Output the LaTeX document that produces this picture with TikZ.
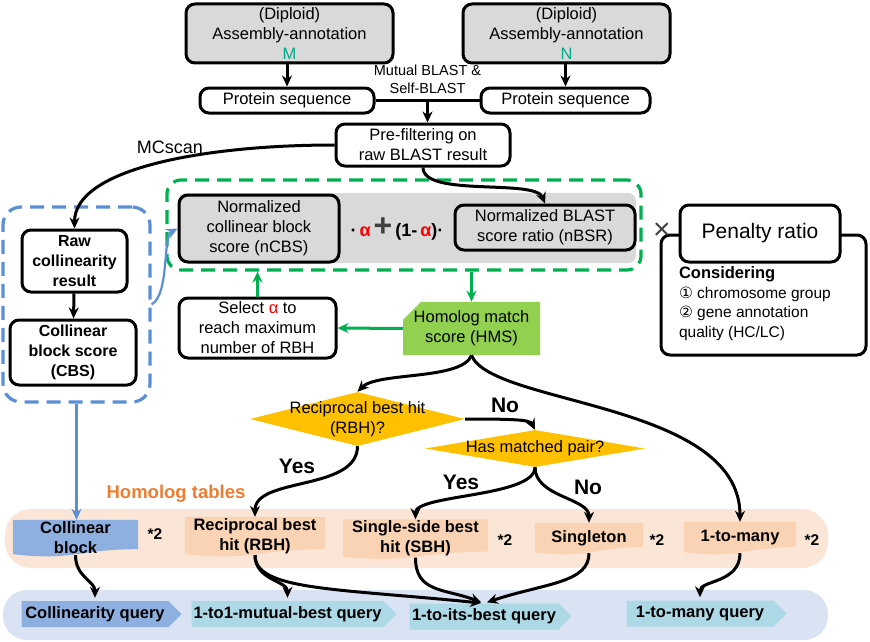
\documentclass[tikz,border=0pt]{standalone}
\usepackage{fontspec}
\setmainfont{Liberation Sans}
\newfontfamily\symfont{DejaVu Sans}
\usetikzlibrary{arrows.meta,positioning,calc,shapes.geometric,shapes.misc,shapes.symbols,backgrounds}

\definecolor{boxgray}{HTML}{D9D9D9}
\definecolor{genoteal}{HTML}{00A88A}
\definecolor{blueline}{HTML}{5B8FD5}
\definecolor{hmsline}{HTML}{00B050}
\definecolor{hmsfill}{HTML}{92D050}
\definecolor{diagold}{HTML}{FFC000}
\definecolor{alphared}{HTML}{FF0000}
\definecolor{plusgray}{HTML}{404040}
\definecolor{tabtitle}{HTML}{ED7D31}
\definecolor{tabband}{HTML}{FBE5D6}
\definecolor{tabpeach}{HTML}{FAD3B5}
\definecolor{blockblue}{HTML}{8EB0E0}
\definecolor{queryband}{HTML}{DAE3F3}
\definecolor{querycyan}{HTML}{ADD8E6}

\begin{document}
\begin{tikzpicture}[
    x=1pt, y=-1pt,
    font=\fontsize{16.5}{20}\selectfont,
    every node/.style={align=center},
    box/.style={draw, line width=3pt, rounded corners=9pt, inner sep=1pt},
    asm/.style={box, fill=boxgray, minimum width=207pt, minimum height=59pt},
    seq/.style={box, fill=white, minimum height=25pt},
    wbox/.style={box, fill=white},
    gbox/.style={box, fill=boxgray},
    bbox/.style={box, fill=white, font=\fontsize{16}{20}\selectfont\bfseries},
    hmsbox/.style={chamfered rectangle, chamfered rectangle corners=north west,
        chamfered rectangle xsep=9pt, chamfered rectangle ysep=9pt,
        fill=hmsfill, inner sep=0pt, minimum width=137pt, minimum height=43pt},
    dia/.style={diamond, fill=diagold, inner sep=0pt},
    tab/.style={inner sep=0pt, font=\fontsize{16.5}{20}\selectfont\bfseries},
    query/.style={signal, signal to=east, minimum height=26pt, inner sep=0pt,
        font=\fontsize{16.5}{20}\selectfont\bfseries},
    lbl/.style={font=\fontsize{21}{23}\selectfont\bfseries},
    star/.style={font=\fontsize{15.5}{18}\selectfont\bfseries},
    grpdash/.style={line width=3.2pt, dash pattern=on 14pt off 8pt},
    >={Stealth[length=11pt,width=10pt]},
    arr/.style={->, line width=3pt},
    garr/.style={->, line width=3pt, draw=hmsline},
    barr/.style={->, line width=2.2pt, draw=blueline},
]
\useasboundingbox (0,0) rectangle (870,642);

% --- Assemblies & protein sequences ---
\node[asm] (asmM) at (289.5,33.5) {(Diploid)\\Assembly-annotation\\\textcolor{genoteal}{M}};
\node[asm] (asmN) at (566.5,33.5) {(Diploid)\\Assembly-annotation\\\textcolor{genoteal}{N}};
\node[seq, minimum width=174pt] (protM) at (287,100.5) {Protein sequence};
\node[seq, minimum width=169pt] (protN) at (565.5,100.5) {Protein sequence};
\node[wbox, minimum width=174pt, minimum height=42pt] (prefilt) at (423,145) {Pre-filtering on\\raw BLAST result};

\draw[arr] (asmM.south -| protM.north) -- (protM.north);
\draw[arr] (asmN.south -| protN.north) -- (protN.north);
\draw[line width=3pt] (protM.east) -- coordinate[pos=0.5] (blast)
    node[pos=0.5, above=2pt, font=\fontsize{14.5}{18}\selectfont] {Mutual BLAST \&\\Self-BLAST} (protN.west);
\draw[arr] (blast) -- (blast |- prefilt.north);

% --- Collinearity branch ---
\node[draw=blueline, grpdash, rounded corners=18pt, minimum width=147pt, minimum height=195pt] (cbsgrp) at (76.5,304.5) {};
\node[bbox, minimum width=105pt, minimum height=62pt] (rawcol) at (74.5,261) {Raw\\collinearity\\result};
\node[bbox, minimum width=126pt, minimum height=65pt] (cbs) at (73,352.5) {Collinear\\block score\\(CBS)};
\node[font=\fontsize{18}{20}\selectfont] (mcscan) at (170,147) {MCscan};

\draw[arr] (prefilt.west) .. controls +(-130,0) and +(0,-60) .. (rawcol.north);
\draw[arr] (rawcol) -- (cbs);

% --- Weighted homolog score ---
\node[draw=hmsline, grpdash, rounded corners=14pt, minimum width=474pt, minimum height=90pt] (scoregrp) at (404,225) {};
\node[fill=boxgray, rounded corners=8pt, minimum width=458pt, minimum height=70pt] (scorebg) at (407,228) {};
\node[gbox, minimum width=160pt, minimum height=67pt] (ncbs) at (259,228.5) {Normalized\\collinear block\\score (nCBS)};
\node[gbox, minimum width=180pt, minimum height=45pt] (nbsr) at (545,227.5) {Normalized BLAST\\score ratio (nBSR)};
\node[font=\fontsize{18}{20}\selectfont\bfseries] (wsum) at (397,229)
    {·\,\textcolor{alphared}{α}\,{\fontsize{32}{32}\selectfont\textcolor{plusgray}{+}}\,(1-\,\textcolor{alphared}{α})·};

\draw[arr] (prefilt.south) .. controls +(0,30) and +(-10,-25) .. (nbsr.north);
\draw[barr] (cbsgrp.east) .. controls +(18,-10) and +(-15,8) .. (ncbs.west);

% --- Penalty ---
\node[wbox, minimum width=205pt, minimum height=120pt,
    label={[anchor=north west, align=left, xshift=16pt, yshift=-30pt, font=\fontsize{15.5}{19.5}\selectfont]north west:{%
    {\fontsize{16.5}{19.5}\selectfont\bfseries Considering}\\{\symfont ①} chromosome group\\{\symfont ②} gene annotation\\quality (HC/LC)}}]
    (consid) at (763.5,295) {};
\node[wbox, minimum width=160pt, minimum height=57pt, font=\fontsize{21}{24}\selectfont] (penalty) at (760,233.5) {Penalty ratio};
\node[font=\fontsize{30}{30}\selectfont, text=plusgray] (times) at (662,231) {×};

% --- Alpha selection & HMS ---
\node[wbox, minimum width=157pt, minimum height=60pt] (selalpha) at (257.5,328) {Select \textcolor{alphared}{α} to\\reach maximum\\number of RBH};
\node[hmsbox] (hms) at (471.5,328.5) {Homolog match\\score (HMS)};

\draw[garr] (selalpha.north) -- (selalpha.north |- scoregrp.south);
\draw[garr] (hms.north |- scoregrp.south) -- (hms.north);
\draw[garr] (hms.west) -- (selalpha.east);

% --- Decisions ---
\node[dia, minimum width=215pt, minimum height=54pt,
    label={center:{Reciprocal best hit\\(RBH)?}}] (rbhq) at (357.5,419) {};
\node[dia, minimum width=220pt, minimum height=37pt,
    label={center:{Has matched pair?}}] (pairq) at (535,448.5) {};

% --- Homolog tables ---
\node[font=\fontsize{18.5}{20}\selectfont\bfseries, text=tabtitle] (tabtitle) at (176,494) {Homolog tables};
\node[tab, minimum width=125pt, minimum height=35pt] (cbk) at (75.5,537.5) {Collinear\\block};
\node[tab, minimum width=140pt, minimum height=38pt] (rbht) at (255,536) {Reciprocal best\\hit (RBH)};
\node[tab, minimum width=145pt, minimum height=38pt] (sbht) at (415.5,538.5) {Single-side best\\hit (SBH)};
\node[tab, minimum width=108pt, minimum height=30pt] (sing) at (589,538) {Singleton};
\node[tab, minimum width=112pt, minimum height=31pt] (one2m) at (740,537.5) {1-to-many};
\node[star] (star1) at (155,534) {*2};
\node[star] (star2) at (505,540) {*2};
\node[star] (star3) at (657,540) {*2};
\node[star] (star4) at (812,540) {*2};

% --- Queries ---
\node[query, fill=blockblue, minimum width=160pt] (colq) at (95,614) {Collinearity query};
\node[query, fill=querycyan, minimum width=205pt] (mutq) at (287.5,614) {1-to1-mutual-best query};
\node[query, fill=querycyan, minimum width=162pt] (itsq) at (484,616.5) {1-to-its-best query};
\node[query, fill=querycyan, minimum width=160pt] (manyq) at (700,613.5) {1-to-many query};

\begin{scope}[on background layer]
  \fill[tabband] (5,509) [rounded corners=26pt] rectangle (828,568);
  \fill[queryband] (3,590) [rounded corners=24pt] rectangle (828,640);
  \foreach \n/\c in {cbk/blockblue, rbht/tabpeach, sbht/tabpeach, sing/tabpeach, one2m/tabpeach}
    \fill[\c] (\n.north west) -- (\n.north east) -- ($(\n.south east)+(0pt,6pt)$)
      .. controls ($(\n.south)+(0pt,6pt)$) and ($(\n.south)+(0pt,-6pt)$) .. ($(\n.south west)+(0pt,1pt)$) -- cycle;
\end{scope}

% --- Decision flow ---
\draw[arr] (hms.south) .. controls +(-10,25) and +(20,-20) .. (rbhq.north);
\draw[arr] (hms.south) .. controls +(20,50) and +(0,-120) .. (one2m.north);
\draw[arr] (rbhq.east) .. controls +(50,0) and +(-5,-10) .. (pairq.north);
\node[lbl] (no1) at (505,405) {No};
\draw[arr] (rbhq.south) .. controls +(0,45) and +(0,-40) .. (rbht.north);
\node[lbl] (yes1) at (297,466) {Yes};
\draw[arr] (pairq.south) .. controls +(0,30) and +(0,-25) .. (sbht.north);
\node[lbl] (yes2) at (461,482) {Yes};
\draw[arr] (pairq.south) .. controls +(0,30) and +(0,-25) .. (sing.north);
\node[lbl] (no2) at (588,487) {No};
\draw[barr] (cbsgrp.south) -- (cbsgrp.south |- cbk.north);

% --- Tables to queries ---
\draw[arr, shorten >=3pt] (cbk.south) .. controls +(0,22) and +(0,-20) .. (colq.north);
\draw[arr, shorten >=3pt] (rbht.south) .. controls +(0,25) and +(0,-20) .. (mutq.north);
\draw[arr, shorten >=3pt] (rbht.south) .. controls +(0,35) and +(-150,-15) .. (itsq.north);
\draw[arr, shorten >=3pt] (sbht.south) .. controls +(0,35) and +(-40,-15) .. (itsq.north);
\draw[arr, shorten >=3pt] (sing.south) .. controls +(0,30) and +(60,-20) .. (itsq.north);
\draw[arr, shorten >=3pt] (one2m.south) .. controls +(0,30) and +(0,-20) .. (manyq.north);

\end{tikzpicture}
\end{document}
